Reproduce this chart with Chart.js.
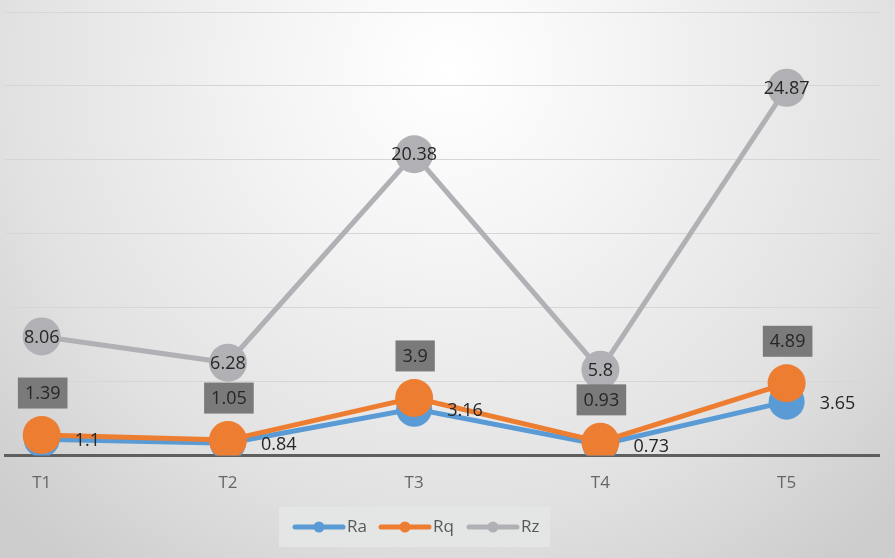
<!DOCTYPE html>
<html>
<head>
<meta charset="utf-8">
<script src="https://cdn.jsdelivr.net/npm/chart.js@4/dist/chart.umd.min.js"></script>
<style>
html,body{margin:0;padding:0;background:#fff;}
#wrap{width:895px;height:558px;position:relative;}
</style>
</head>
<body>
<div id="wrap"><canvas id="c" width="895" height="558"></canvas></div>
<script>
const categories = ['T1','T2','T3','T4','T5'];
const seriesNames = ['Ra','Rq','Rz'];
const raValues = [1.1, 0.84, 3.16, 0.73, 3.65];
const rqValues = [1.39, 1.05, 3.9, 0.93, 4.89];
const rzValues = [8.06, 6.28, 20.38, 5.8, 24.87];
const colors = ['#5b9bd5', '#ed7d31', '#b1b1b5'];
const yMin = 0, yMax = 30, yStep = 5;

const FONT = '"Open Sans", "Liberation Sans", sans-serif';

function toPts(vals){ return vals.map((v,i)=>({x:i, y:v})); }

const bgPlugin = {
  id:'bg',
  beforeDraw(chart){
    const ctx = chart.ctx, w = chart.width, h = chart.height;
    ctx.save();
    const g = ctx.createRadialGradient(450, 70, 0, 450, 70, 620);
    g.addColorStop(0, '#ffffff');
    g.addColorStop(0.25, '#f6f6f6');
    g.addColorStop(0.7, '#e2e2e2');
    g.addColorStop(1, '#cdcdcd');
    ctx.fillStyle = g;
    ctx.fillRect(0,0,w,h);
    ctx.restore();
  }
};

const labelPlugin = {
  id:'vlabels',
  afterDatasetsDraw(chart){
    const ctx = chart.ctx;
    ctx.save();
    ctx.font = '18px ' + FONT;
    chart.getDatasetMeta(2).data.forEach((pt,i)=>{
      ctx.fillStyle = '#262626';
      ctx.textAlign = 'center'; ctx.textBaseline = 'middle';
      ctx.fillText(String(rzValues[i]), pt.x, pt.y+1);
    });
    chart.getDatasetMeta(0).data.forEach((pt,i)=>{
      ctx.fillStyle = '#262626';
      ctx.textAlign = 'left'; ctx.textBaseline = 'middle';
      ctx.fillText(String(raValues[i]), pt.x+33, pt.y+2);
    });
    chart.getDatasetMeta(1).data.forEach((pt,i)=>{
      const txt = String(rqValues[i]);
      const tw = ctx.measureText(txt).width;
      const bw = tw + 14, bh = 31;
      const cx = pt.x + 1, cy = pt.y - 42;
      ctx.fillStyle = '#7a7a7a';
      ctx.fillRect(cx - bw/2, cy - bh/2, bw, bh);
      ctx.fillStyle = '#262626';
      ctx.textAlign = 'center'; ctx.textBaseline = 'middle';
      ctx.fillText(txt, cx, cy+1);
    });
    ctx.restore();
  },
  afterDraw(chart){
    const ctx = chart.ctx;
    ctx.save();
    ctx.fillStyle = '#e4e5e5';
    ctx.fillRect(279, 507, 271, 40);
    ctx.font = '17px ' + FONT;
    const starts = [295, 381, 469];
    const cy = 527;
    seriesNames.forEach((n,i)=>{
      const x0 = starts[i];
      ctx.strokeStyle = colors[i];
      ctx.lineWidth = 5; ctx.lineCap = 'round';
      ctx.beginPath(); ctx.moveTo(x0, cy); ctx.lineTo(x0+48, cy); ctx.stroke();
      ctx.fillStyle = colors[i];
      ctx.beginPath(); ctx.arc(x0+24, cy, 5.5, 0, Math.PI*2); ctx.fill();
      ctx.fillStyle = '#595959';
      ctx.textAlign = 'left'; ctx.textBaseline = 'middle';
      ctx.fillText(n, x0+52, cy);
    });
    ctx.restore();
  }
};

const mkDs = (label, vals, color, radius, order) => ({
  label, data: toPts(vals), borderColor: color, backgroundColor: color,
  pointBackgroundColor: color, pointBorderColor: color, pointBorderWidth: 0,
  pointRadius: radius, pointHoverRadius: radius, borderWidth: 5, tension: 0, order
});

new Chart(document.getElementById('c'), {
  type: 'line',
  data: {
    datasets: [
      mkDs(seriesNames[0], raValues, colors[0], 18, 2),
      mkDs(seriesNames[1], rqValues, colors[1], 19, 1),
      mkDs(seriesNames[2], rzValues, colors[2], 19, 3)
    ]
  },
  options: {
    responsive: false, animation: false, devicePixelRatio: 1,
    layout: { autoPadding: false, padding: { left: 5, right: 16, top: 12, bottom: 48 } },
    plugins: { legend: { display: false }, tooltip: { enabled: false } },
    scales: {
      x: {
        type: 'linear', min: -0.197, max: 4.496,
        afterBuildTicks(scale){ scale.ticks = categories.map((_,i)=>({value:i})); },
        afterFit(scale){ scale.paddingLeft = 0; scale.paddingRight = 0; },
        grid: { display: false, drawTicks: false },
        border: { display: true, color: '#5f5f5f', width: 3 },
        ticks: { padding: 17, color: '#666666', font: { family: FONT, size: 17 },
                 callback: (v)=> categories[v] !== undefined ? categories[v] : '' }
      },
      y: {
        min: yMin, max: yMax,
        afterFit(scale){ scale.width = 0; },
        ticks: { display: false, stepSize: yStep },
        grid: { color: '#d6d6d6', lineWidth: 1, drawTicks: false },
        border: { display: false }
      }
    }
  },
  plugins: [bgPlugin, labelPlugin]
});
</script>
</body>
</html>
